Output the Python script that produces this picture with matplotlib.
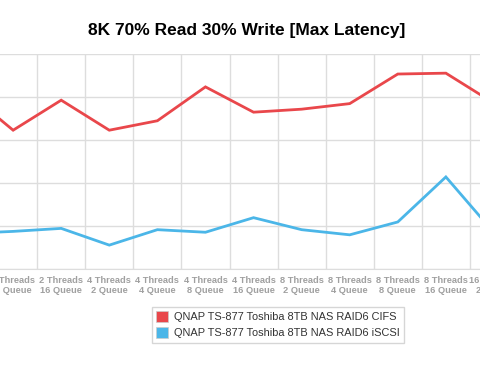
import matplotlib
matplotlib.use("Agg")
import matplotlib.pyplot as plt
from matplotlib.patches import Patch
import numpy as np

categories = ["2 Threads\n4 Queue", "2 Threads\n8 Queue", "2 Threads\n16 Queue",
              "4 Threads\n2 Queue", "4 Threads\n4 Queue", "4 Threads\n8 Queue",
              "4 Threads\n16 Queue", "8 Threads\n2 Queue", "8 Threads\n4 Queue",
              "8 Threads\n8 Queue", "8 Threads\n16 Queue", "16 Threads\n2 Queue"]
cifs = [416, 323, 393, 323, 345, 424, 365, 372, 385, 454, 456, 386]
iscsi = [82, 87, 94, 55, 91, 85, 119, 91, 79, 109, 214, 84]
series_names = ["QNAP TS-877 Toshiba 8TB NAS RAID6 CIFS",
                "QNAP TS-877 Toshiba 8TB NAS RAID6 iSCSI"]
colors = ["#e9474b", "#4bb6e8"]

W, H = 480, 368
fig = plt.figure(figsize=(W/100, H/100), dpi=100)
plt.rcParams['font.family'] = ['Liberation Sans', 'DejaVu Sans']

left_px, right_px = -59, 518
top_px, bot_px = 54.3, 268.7
ax = fig.add_axes([left_px/W, 1-bot_px/H, (right_px-left_px)/W, (bot_px-top_px)/H])
x = np.arange(len(categories))
ax.plot(x, cifs, color=colors[0], lw=2, solid_joinstyle='miter')
ax.plot(x, iscsi, color=colors[1], lw=2, solid_joinstyle='miter')
ax.set_xlim(-0.5, len(categories)-0.5)
ax.set_ylim(0, 500)
ax.set_yticks([0, 100, 200, 300, 400, 500])
ax.set_xticks(x)
ax.set_xticklabels(categories, fontsize=6.7, color="#a0a0a0", fontweight='bold', linespacing=1.15)
ax.set_xticks(np.arange(-0.5, len(categories), 1), minor=True)
ax.tick_params(axis='x', which='both', length=0, pad=5)
ax.tick_params(axis='y', length=0, labelleft=False)
ax.grid(True, which='minor', axis='x', color="#dddddd", lw=1)
ax.grid(True, which='major', axis='y', color="#dddddd", lw=1)
ax.set_axisbelow(True)
for s in ax.spines.values():
    s.set_visible(False)
ax.spines['bottom'].set_visible(True)
ax.spines['bottom'].set_color("#dddddd")

fig.text(247/W, 1-30/H, "8K 70% Read 30% Write [Max Latency]", ha='center', va='center',
         fontsize=12.5, fontweight='bold', color="#000000")

handles = [Patch(facecolor=c, edgecolor='#cccccc', lw=0.5) for c in colors]
leg = fig.legend(handles, series_names, loc='upper left', bbox_to_anchor=(152/W, 1-307/H),
                 fontsize=7.9, frameon=True, fancybox=False, edgecolor="#cccccc",
                 handlelength=1.1, handleheight=1.1, handletextpad=0.5, borderpad=0.4,
                 labelspacing=0.45, borderaxespad=0)
leg.get_frame().set_linewidth(1)
for t in leg.get_texts():
    t.set_color("#333333")

fig.savefig("out.png", dpi=100)
